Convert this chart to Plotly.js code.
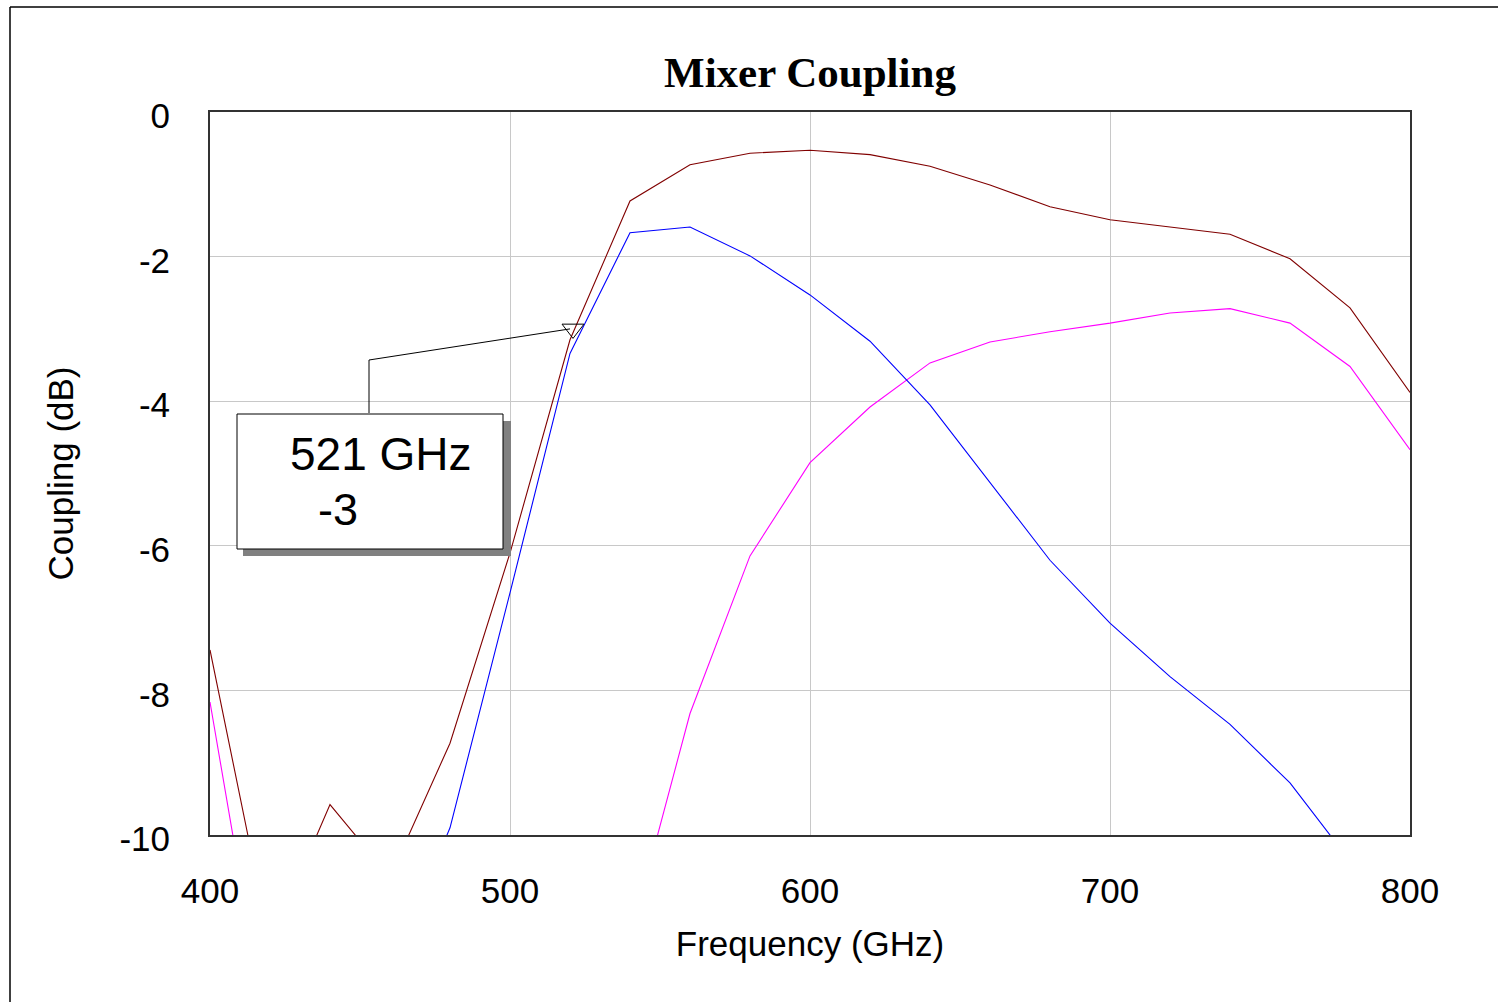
<!DOCTYPE html>
<html>
<head>
<meta charset="utf-8">
<script src="https://cdn.plot.ly/plotly-3.0.1.min.js"></script>
<style>html,body{margin:0;padding:0;background:#fff;}#chart{width:1498px;height:1002px;}</style>
</head>
<body>
<div id="chart"></div>
<script>
// Frequency points (GHz)
const freq = [400,420,440,460,480,500,520,540,560,580,600,620,640,660,680,700,720,740,760,780,800];
// Series (dB); values below -10 are off-axis estimates
const brownSeries   = [-7.44,-11.5,-9.58,-10.58,-8.73,-6.1,-3.15,-1.23,-0.73,-0.57,-0.53,-0.59,-0.75,-1.01,-1.31,-1.49,-1.59,-1.69,-2.03,-2.71,-3.88];
const blueSeries    = [-13.5,-14.0,-13.0,-11.9,-9.9,-6.65,-3.34,-1.67,-1.59,-1.99,-2.53,-3.17,-4.05,-5.13,-6.2,-7.07,-7.81,-8.47,-9.28,-10.36,-11.5];
const magentaSeries = [-8.16,-13.0,-14.0,-15.0,-15.0,-14.5,-13.5,-11.43,-8.32,-6.14,-4.85,-4.08,-3.47,-3.18,-3.04,-2.92,-2.78,-2.72,-2.92,-3.52,-4.67];
// Marker readout
const markerFreq = [521];
const markerVal = [-3];
const markerLabel = ["521 GHz", "-3"];
const xTicks = [400,500,600,700,800];
const yTicks = [0,-2,-4,-6,-8,-10];

// plot area geometry (pixels) for placing the readout box
const L = 210, R = 1410, T = 112, B = 835;
const px2x = p => 400 + (p - L) * 400 / (R - L);
const px2y = p => -(p - T) * 10 / (B - T);

const traces = [
  {x: freq, y: magentaSeries, mode: 'lines', line: {color: '#ff00ff', width: 1.1}, name: 'm'},
  {x: freq, y: blueSeries, mode: 'lines', line: {color: '#0000ff', width: 1.1}, name: 'b'},
  {x: freq, y: brownSeries, mode: 'lines', line: {color: '#800000', width: 1.1}, name: 'r'},
  {x: markerFreq, y: markerVal, mode: 'markers', marker: {symbol: 'triangle-down-open', size: 19, color: '#000', line: {width: 1, color: '#000'}}, name: 'mk'}
];

const shapes = [
  // outer frame (left and top edges)
  {type: 'line', xref: 'paper', yref: 'paper', x0: (10 - L)/(R - L), x1: (10 - L)/(R - L), y0: (B - 7)/(B - T), y1: (B - 1010)/(B - T), line: {color: '#000', width: 1.5}},
  {type: 'line', xref: 'paper', yref: 'paper', x0: (10 - L)/(R - L), x1: (1510 - L)/(R - L), y0: (B - 7)/(B - T), y1: (B - 7)/(B - T), line: {color: '#000', width: 1.5}},
  // leader line
  {type: 'path', xref: 'x', yref: 'y', path: `M ${px2x(369)} ${px2y(413)} L ${px2x(369)} ${px2y(360)} L ${markerFreq[0] - 1} ${markerVal[0]}`, line: {color: '#000', width: 1}},
  // shadow
  {type: 'rect', xref: 'x', yref: 'y', x0: px2x(243), x1: px2x(511), y0: px2y(421), y1: px2y(556), fillcolor: '#808080', line: {width: 0}},
  // box
  {type: 'rect', xref: 'x', yref: 'y', x0: px2x(237), x1: px2x(503), y0: px2y(414), y1: px2y(549), fillcolor: '#ffffff', line: {color: '#000', width: 1}}
];

const annotations = [
  {xref: 'x', yref: 'y', x: px2x(288), y: px2y(454), text: markerLabel[0], showarrow: false, xanchor: 'left', yanchor: 'middle', font: {family: 'Liberation Sans, Arial', size: 46, color: '#000'}},
  {xref: 'x', yref: 'y', x: px2x(316), y: px2y(509), text: markerLabel[1], showarrow: false, xanchor: 'left', yanchor: 'middle', font: {family: 'Liberation Sans, Arial', size: 45, color: '#000'}}
];

const layout = {
  width: 1498, height: 1002,
  margin: {l: L, r: 1498 - R, t: T, b: 1002 - B, pad: 0},
  paper_bgcolor: '#fff', plot_bgcolor: '#fff',
  showlegend: false,
  title: {text: '<b>Mixer Coupling</b>', font: {family: 'Liberation Serif, Times New Roman', size: 43, color: '#000'}, x: 0.5, xanchor: 'center', xref: 'paper', yref: 'container', y: 1 - 72/1002, yanchor: 'middle'},
  xaxis: {
    range: [400, 800], tickvals: xTicks, ticktext: xTicks.map(String),
    showgrid: true, gridcolor: '#c8c8c8', gridwidth: 1,
    showline: true, linecolor: '#333', linewidth: 2, mirror: true,
    ticks: '', zeroline: false,
    tickfont: {family: 'Liberation Sans, Arial', size: 35, color: '#000'},
    ticklabelstandoff: 24,
    title: {text: 'Frequency (GHz)', font: {family: 'Liberation Sans, Arial', size: 35, color: '#000'}, standoff: 22}
  },
  yaxis: {
    range: [-10, 0], tickvals: yTicks, ticktext: yTicks.map(String),
    showgrid: true, gridcolor: '#c8c8c8', gridwidth: 1,
    showline: true, linecolor: '#333', linewidth: 2, mirror: true,
    ticks: '', zeroline: false,
    tickfont: {family: 'Liberation Sans, Arial', size: 35, color: '#000'},
    ticklabelstandoff: 31,
    ticklabelshift: 4,
    title: {text: 'Coupling (dB)', font: {family: 'Liberation Sans, Arial', size: 35, color: '#000'}, standoff: 35}
  },
  shapes: shapes,
  annotations: annotations
};

Plotly.newPlot('chart', traces, layout, {staticPlot: true});
</script>
</body>
</html>
